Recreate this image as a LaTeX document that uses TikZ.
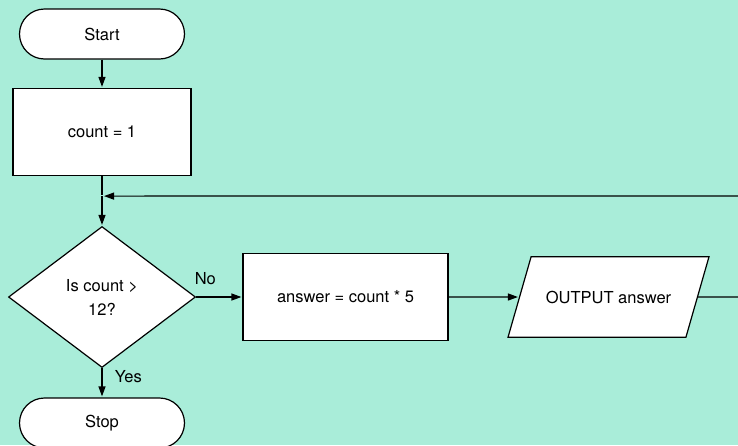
\documentclass[tikz,border=0pt]{standalone}
\usepackage{fontspec}
\setmainfont{TeX Gyre Heros}
\usepackage{xcolor}
\usetikzlibrary{shapes.geometric, positioning, arrows.meta}
\definecolor{mint}{HTML}{A9EDD9}

\begin{document}
\begin{tikzpicture}[x=1pt,y=1pt,on grid,line width=1.2pt,
    >={Triangle[length=10pt,width=7pt]},shorten >=1pt,
    font=\fontsize{16.5}{24}\selectfont,
    terminal/.style={draw,fill=white,rectangle,rounded corners=25pt,
      minimum width=165pt,minimum height=50pt},
    process/.style={draw,fill=white,rectangle,minimum height=87pt},
    decision/.style={draw,fill=white,diamond,align=center,
      minimum width=187pt,minimum height=141pt},
    io/.style={draw,fill=white,trapezium,trapezium stretches body=true,
      trapezium left angle=74,trapezium right angle=106,
      inner ysep=34pt,minimum width=201pt}]
       \useasboundingbox (0,0) rectangle (738,-445);
       \fill[mint] (0,0) rectangle (738,-445);
       \clip (0,0) rectangle (738,-445);

       \node[terminal] (start) at (102,-34) {Start};
       \node[process,minimum width=178pt] (count) [below=98pt of start] {count = 1};
       \node[decision] (dec) [below=165pt of count] {Is count >\\12?};
       \node[terminal] (stop) [below=126pt of dec] {Stop};
       \node[process,minimum width=205pt] (ans) [right=243.5pt of dec] {answer = count * 5};
       \node[io] (out) [right=263pt of ans] {OUTPUT answer};
       \coordinate (join) at ([yshift=-20pt]count.south);
       \coordinate (back) at (760,-196);

       \draw[->] (start) -- (count);
       \draw (count) -- (join);
       \draw[->] (join) -- (dec);
       \draw[->] (dec) -- node[pos=0.2,above=8pt] {No} (ans);
       \draw[->] (dec) -- node[pos=0.3,right=9pt] {Yes} (stop);
       \draw[->] (ans) -- (out);
       \draw[->,shorten >=2pt] (out.east) -| (back) -- (join);
\end{tikzpicture}
\end{document}
